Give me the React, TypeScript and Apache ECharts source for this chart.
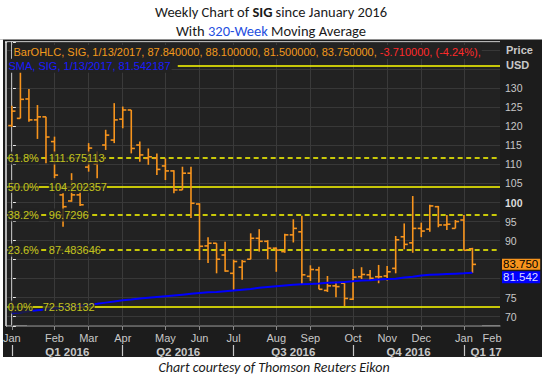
import React, { useEffect, useRef } from 'react';
import * as echarts from 'echarts';

// ---------- data ----------
const FIRST_WEEK = '2016-01-01';
const SYMBOL = 'SIG';
const OPEN = [120.2, 122.1, 127.2, 121.7, 122.5, 116.0, 102.0, 100.4, 102.0, 109.3, 110.1, 115.1, 116.4, 121.9, 124.3, 115.1, 111.6, 111.6, 109.6, 108.3, 103.3, 107.7, 99.6, 88.6, 89.3, 86.2, 81.4, 83.0, 85.1, 90.6, 89.8, 88.0, 87.1, 91.5, 92.3, 80.6, 82.3, 76.9, 78.1, 78.8, 74.6, 80.5, 81.0, 80.5, 80.7, 82.7, 91.0, 89.4, 93.2, 93.0, 98.9, 94.1, 93.2, 95.4, 87.84];
const HIGH = [125.4, 134.4, 129.8, 125.6, 122.5, 117.3, 102.4, 107.7, 102.8, 115.6, 113.3, 119.1, 126.1, 125.2, 124.3, 116.0, 114.2, 112.9, 111.6, 108.5, 109.4, 109.4, 99.8, 90.9, 89.3, 89.7, 85.0, 84.9, 91.9, 93.0, 90.1, 88.2, 91.8, 95.6, 96.5, 83.5, 83.1, 80.7, 79.2, 78.8, 82.5, 83.0, 82.3, 83.6, 83.3, 91.2, 94.5, 101.7, 94.7, 99.4, 99.1, 96.7, 95.4, 96.7, 88.10];
const LOW = [119.8, 122.1, 121.2, 116.7, 110.3, 106.4, 93.6, 100.2, 99.1, 108.1, 106.4, 113.8, 115.6, 119.5, 112.9, 110.7, 109.9, 107.2, 105.9, 102.4, 103.3, 95.9, 84.9, 84.1, 81.4, 81.8, 77.0, 79.7, 85.1, 87.1, 85.1, 81.8, 86.8, 89.5, 78.6, 79.4, 77.2, 76.5, 75.1, 72.8, 74.4, 79.9, 79.7, 78.8, 79.5, 81.4, 87.7, 86.8, 90.9, 92.3, 93.5, 92.8, 93.2, 87.4, 81.50];
const CLOSE = [124.0, 127.1, 121.7, 122.5, 117.2, 107.2, 98.9, 102.0, 99.4, 114.3, 111.2, 117.7, 121.7, 124.3, 114.2, 112.5, 112.0, 108.7, 108.3, 103.3, 107.7, 99.8, 88.5, 89.3, 85.1, 82.0, 84.5, 84.5, 90.6, 89.8, 88.0, 87.5, 91.5, 93.2, 81.0, 82.4, 77.2, 78.1, 77.9, 74.8, 80.4, 81.1, 80.1, 80.5, 81.8, 90.2, 89.0, 93.2, 92.5, 99.1, 94.1, 94.3, 95.0, 87.46, 83.75];
const SMA = [70.9, 71.1, 71.4, 71.7, 71.9, 72.2, 72.4, 72.7, 72.9, 73.2, 73.4, 73.7, 74.0, 74.3, 74.5, 74.8, 75.0, 75.2, 75.4, 75.6, 75.8, 76.0, 76.2, 76.4, 76.5, 76.7, 76.9, 77.1, 77.3, 77.6, 77.8, 78.0, 78.2, 78.4, 78.5, 78.6, 78.7, 78.9, 79.0, 79.1, 79.3, 79.5, 79.6, 79.8, 79.9, 80.0, 80.3, 80.5, 80.8, 81.0, 81.1, 81.2, 81.3, 81.4, 81.542187];
// Fibonacci retracement levels; the 100% level's label is hidden behind the legend in the reference
const FIB_PCT = ['100.0%', '61.8%', '50.0%', '38.2%', '23.6%', '0.0%'];
const FIB_VAL = [135.866582, 111.675113, 104.202357, 96.7296, 87.483646, 72.538132];
const FIB_DASHED = [false, true, false, true, true, false];
const FIB_LABELED = [false, true, true, true, true, true];
const MONTH_GRID = [0, 5, 9, 13, 18, 22, 26, 31, 35, 40, 44, 48, 53];
const MONTH_POS = [0, 5, 9, 13, 18, 22, 26, 31, 35, 40, 44, 48, 53, 56.3];
const MONTH_LABELS = ['Jan', 'Feb', 'Mar', 'Apr', 'May', 'Jun', 'Jul', 'Aug', 'Sep', 'Oct', 'Nov', 'Dec', 'Jan', 'Feb'];
const QUARTER_BOUNDS = [0, 13, 26, 40, 53];
const QUARTER_POS = [6.5, 19.5, 33, 46.5, 55.6];
const QUARTER_LABELS = ['Q1 2016', 'Q2 2016', 'Q3 2016', 'Q4 2016', 'Q1 17'];
// 80 and 85 sit under the last-value tags in the reference
const Y_TICKS = [70, 75, 90, 95, 100, 105, 110, 115, 120, 125, 130];

// ---------- layout ----------
const W = 542;
const H = 376;
const GRID = { left: 6, right: 42, top: 42, bottom: 50 };
const X_MIN = -0.55;
const X_MAX = 57.23;
const Y_MIN = 67.56;
const Y_MAX = 142.16;
const LEGEND2_END_PX = 177;
const SANS = '"Liberation Sans", Arial, sans-serif';
const TITLE = 'Carlito, Lato, sans-serif';
const PLOT_BG = '#222222';
const OUTER_BG = '#1c1c1c';
const BAR = '#f7941d';
const FIB = '#ffff00';
const FIB_TEXT = '#ecec1e';
const AXIS_TEXT = '#c8c8c8';

const nearest = (arr: number[], v: number) =>
  arr.reduce((bi, a, i) => (Math.abs(a - v) < Math.abs(arr[bi] - v) ? i : bi), 0);

export default function App() {
  const ref = useRef<HTMLDivElement>(null);

  useEffect(() => {
    const el = ref.current;
    if (!el) return;
    const chart = echarts.init(el, undefined, { renderer: 'svg' });

    const n = CLOSE.length;
    const t0 = new Date(FIRST_WEEK + 'T00:00:00Z').getTime();
    const last = new Date(t0 + (n - 1) * 7 * 86400000);
    const dateStr = `${last.getUTCMonth() + 1}/${last.getUTCDate()}/${last.getUTCFullYear()}`;
    const chg = CLOSE[n - 1] - CLOSE[n - 2];
    const pct = (chg / CLOSE[n - 2]) * 100;
    const row1a = `BarOHLC, ${SYMBOL}, ${dateStr}, ${OPEN[n - 1].toFixed(6)}, ${HIGH[n - 1].toFixed(6)}, ${LOW[n - 1].toFixed(6)}, ${CLOSE[n - 1].toFixed(6)}, `;
    const row1b = `${chg.toFixed(6)}, (${pct.toFixed(2)}%),`;
    const row2 = `SMA, ${SYMBOL}, ${dateStr}, ${SMA[n - 1]}`;

    // x value where the second legend row ends (the top fib line starts there)
    const xLegendEnd = X_MIN + ((LEGEND2_END_PX - GRID.left) / (W - GRID.left - GRID.right)) * (X_MAX - X_MIN);

    const renderItem = (params: any, api: any) => {
      const x = api.value(0);
      const o = api.coord([x, api.value(1)]);
      const c = api.coord([x, api.value(2)]);
      const l = api.coord([x, api.value(3)]);
      const h = api.coord([x, api.value(4)]);
      const w = api.size([1, 0])[0] * 0.42;
      const style = { stroke: BAR, lineWidth: 1.6 };
      return {
        type: 'group',
        children: [
          { type: 'line', shape: { x1: h[0], y1: h[1], x2: l[0], y2: l[1] }, style },
          { type: 'line', shape: { x1: o[0] - w, y1: o[1], x2: o[0], y2: o[1] }, style },
          { type: 'line', shape: { x1: c[0], y1: c[1], x2: c[0] + w, y2: c[1] }, style },
        ],
      };
    };

    const frame = { stroke: '#e8e8e8', lineWidth: 1.5 };
    const elements: any[] = [
      // white page areas around the dark chart panel
      { type: 'rect', silent: true, shape: { x: 0, y: 0, width: W, height: 39.5 }, style: { fill: '#ffffff' } },
      { type: 'rect', silent: true, shape: { x: 0, y: 39.5, width: 3, height: 317.5 }, style: { fill: '#ffffff' } },
      { type: 'rect', silent: true, shape: { x: 0, y: 357, width: W, height: H - 357 }, style: { fill: '#ffffff' } },
      {
        type: 'text', x: 271, y: 12, silent: true,
        style: {
          text: `{n|Weekly Chart of }{b|${SYMBOL}}{n| since January 2016}`, align: 'center', verticalAlign: 'middle',
          rich: {
            n: { fontSize: 14.5, fontFamily: TITLE, fill: '#1a1a1a' },
            b: { fontSize: 14.5, fontFamily: TITLE, fontWeight: 'bold', fill: '#1a1a1a' },
          },
        },
      },
      {
        type: 'text', x: 271, y: 31, silent: true,
        style: {
          text: '{n|With }{c|320-Week}{n| Moving Average}', align: 'center', verticalAlign: 'middle',
          rich: {
            n: { fontSize: 14.5, fontFamily: TITLE, fill: '#1a1a1a' },
            c: { fontSize: 14.5, fontFamily: TITLE, fill: '#1f4fe0' },
          },
        },
      },
      {
        type: 'text', x: 274, y: 367, silent: true,
        style: { text: 'Chart courtesy of Thomson Reuters Eikon', align: 'center', verticalAlign: 'middle', fontSize: 14, fontStyle: 'italic', fontFamily: TITLE, fill: '#1a1a1a' },
      },
      { type: 'line', silent: true, shape: { x1: 5, y1: 42, x2: 500, y2: 42 }, style: frame },
      { type: 'line', silent: true, shape: { x1: 6, y1: 42, x2: 6, y2: 326 }, style: frame },
      { type: 'line', silent: true, shape: { x1: 6, y1: 326, x2: 27, y2: 326 }, style: frame },
      { type: 'line', silent: true, shape: { x1: 482, y1: 326, x2: 500, y2: 326 }, style: frame },
      {
        type: 'text', x: 506, y: 50, silent: true,
        style: { text: 'Price', verticalAlign: 'middle', fontSize: 11, fontWeight: 'bold', fontFamily: SANS, fill: AXIS_TEXT },
      },
      {
        type: 'text', x: 506, y: 64.6, silent: true,
        style: { text: 'USD', verticalAlign: 'middle', fontSize: 11, fontWeight: 'bold', fontFamily: SANS, fill: AXIS_TEXT },
      },
    ];

    const labeledFib = FIB_VAL.map((v, i) => ({ v, i })).filter((d) => FIB_LABELED[d.i]);

    const option: any = {
      animation: false,
      backgroundColor: OUTER_BG,
      // the two legend rows of the chart panel (title boxes sit above the grid lines)
      title: [
        {
          text: `{o|${row1a}}{r|${row1b}}`, left: 12, top: 45, padding: [1, 1, 1, 1.5], itemGap: 0,
          backgroundColor: PLOT_BG, z: 10,
          textStyle: {
            fontSize: 11, fontFamily: SANS, fontWeight: 'normal', lineHeight: 12,
            rich: {
              o: { fontSize: 11, fontFamily: SANS, color: '#f39a1c', lineHeight: 12 },
              r: { fontSize: 11, fontFamily: SANS, color: '#ff2a2a', lineHeight: 12 },
            },
          },
        },
        {
          text: row2, left: 7, top: 58.7, padding: [1, 1, 1, 1.5], itemGap: 0,
          backgroundColor: PLOT_BG, z: 10,
          textStyle: { fontSize: 11, fontFamily: SANS, fontWeight: 'normal', color: '#1a1aff', lineHeight: 12 },
        },
      ],
      grid: { ...GRID, show: true, backgroundColor: PLOT_BG, borderWidth: 0 },
      xAxis: [
        {
          type: 'value', min: X_MIN, max: X_MAX, position: 'bottom',
          axisLine: { show: true, lineStyle: { color: '#6e6e6e', width: 1.5 } },
          axisTick: { show: true, customValues: MONTH_GRID, length: 4, lineStyle: { color: '#8a8a8a' } },
          axisLabel: {
            customValues: MONTH_POS, margin: 6, color: AXIS_TEXT, fontSize: 11, fontFamily: SANS,
            formatter: (v: number) => MONTH_LABELS[nearest(MONTH_POS, v)],
          },
          splitLine: { show: false },
        },
        {
          type: 'value', min: X_MIN, max: X_MAX, position: 'bottom', offset: 19,
          axisLine: { show: false },
          axisTick: { show: true, customValues: QUARTER_BOUNDS, length: 11, lineStyle: { color: AXIS_TEXT, width: 1.2 } },
          axisLabel: {
            customValues: QUARTER_POS, margin: 1, color: AXIS_TEXT, fontSize: 11.5, fontWeight: 'bold', fontFamily: SANS,
            formatter: (v: number) => QUARTER_LABELS[nearest(QUARTER_POS, v)],
          },
          splitLine: { show: false },
        },
      ],
      yAxis: {
        type: 'value', position: 'right', min: Y_MIN, max: Y_MAX, splitNumber: 15,
        axisLine: { show: true, lineStyle: { color: '#e8e8e8', width: 1.5 } },
        axisTick: { show: true, length: 4, lineStyle: { color: '#e8e8e8' } },
        axisLabel: {
          customValues: Y_TICKS, margin: 5, color: AXIS_TEXT, fontSize: 10.5, fontFamily: SANS,
          formatter: (v: number) => (v === 100 ? '{b|100}' : String(v)),
          rich: { b: { fontWeight: 'bold', color: '#dddddd', fontSize: 10.5, fontFamily: SANS } },
        },
        splitLine: { show: true, lineStyle: { color: '#383838', width: 1 } },
      },
      series: [
        {
          type: 'line', name: 'monthGrid', data: [], silent: true,
          markLine: {
            silent: true, symbol: ['none', 'none'], z: 1, label: { show: false },
            lineStyle: { color: '#3a3a3a', width: 1, type: 'solid' },
            data: MONTH_GRID.map((x) => ({ xAxis: x })),
          },
        },
        {
          type: 'line', name: 'fib', data: [], silent: true,
          markLine: {
            silent: true, symbol: ['none', 'none'], z: 1, label: { show: false },
            data: FIB_VAL.map((v, i) => {
              const lineStyle = { color: FIB, width: 1.5, type: FIB_DASHED[i] ? [5, 3.5] : 'solid' };
              return FIB_LABELED[i]
                ? { yAxis: v, lineStyle }
                : [{ coord: [xLegendEnd, v], lineStyle }, { coord: [X_MAX, v] }];
            }),
          },
        },
        {
          type: 'custom', name: SYMBOL, z: 2, renderItem, clip: true,
          encode: { x: 0, y: [1, 2, 3, 4] },
          data: OPEN.map((o, i) => [i, o, CLOSE[i], LOW[i], HIGH[i]]),
        },
        {
          type: 'line', name: 'SMA', z: 3, symbol: 'none', silent: true,
          lineStyle: { color: '#0000ff', width: 2 },
          data: SMA.map((v, i) => [i, v]),
        },
        {
          type: 'scatter', name: 'fibLabels', z: 4, symbolSize: 0, silent: true, clip: false,
          data: labeledFib.map((d) => [X_MIN, d.v]),
          label: {
            show: true, position: 'right', distance: 0.5,
            formatter: (p: any) => {
              const d = labeledFib[p.dataIndex];
              return `{p|${FIB_PCT[d.i]}}{s| }{v|${d.v}}`;
            },
            rich: {
              p: { color: FIB_TEXT, fontSize: 11, fontFamily: SANS, backgroundColor: PLOT_BG, padding: [1, 0, 1, 0] },
              s: { width: 10, fontSize: 11 },
              v: { color: FIB_TEXT, fontSize: 11, fontFamily: SANS, backgroundColor: PLOT_BG, padding: [1, 0, 1, 0] },
            },
          },
        },
      ],
      graphic: { elements },
    };

    chart.setOption(option);

    const yC = chart.convertToPixel({ yAxisIndex: 0 }, CLOSE[n - 1]) as number;
    const yS = chart.convertToPixel({ yAxisIndex: 0 }, SMA[n - 1]) as number;
    const cTop = yC - 5.7;
    const cBottom = yC + 5.3;
    const sTop = Math.max(yS - 6, cBottom + 1.5);
    const tags = [
      {
        type: 'text', x: 502, y: cTop, silent: true,
        style: { text: CLOSE[n - 1].toFixed(3), verticalAlign: 'top', fontSize: 11.5, fontFamily: SANS, fill: '#000000', backgroundColor: '#f7941d', padding: [0, 2, 0, 1], height: 11, lineHeight: 11 },
      },
      {
        type: 'text', x: 502, y: sTop, silent: true,
        style: { text: SMA[n - 1].toFixed(3), verticalAlign: 'top', fontSize: 11.5, fontFamily: SANS, fill: '#dcdcff', backgroundColor: '#0000ff', padding: [0, 2, 0, 1], height: 12, lineHeight: 12 },
      },
    ];
    chart.setOption({ graphic: { elements: [...elements, ...tags] } });

    return () => chart.dispose();
  }, []);

  return <div ref={ref} style={{ position: 'absolute', left: 0, top: 0, width: W, height: H }} />;
}
